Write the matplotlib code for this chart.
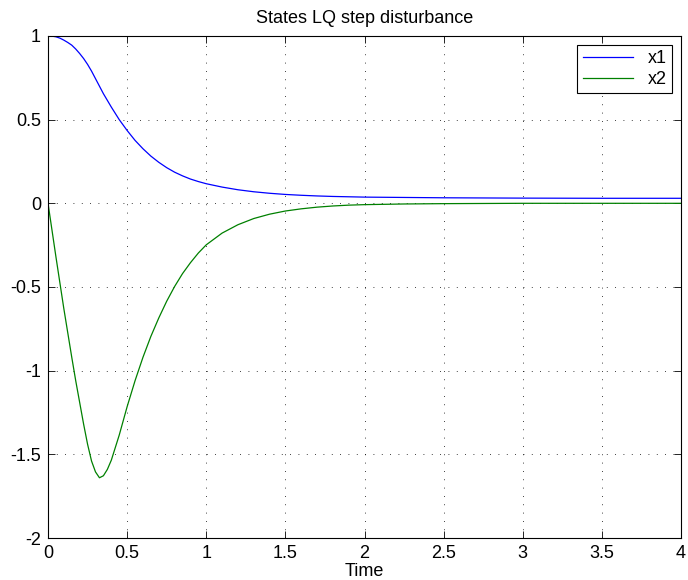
import numpy as np
import matplotlib
matplotlib.use("Agg")
import matplotlib.pyplot as plt

plt.rcParams.update({"font.family": ["Liberation Sans", "DejaVu Sans"], "font.size": 13})

# values
t = [0, 0.025, 0.05, 0.075, 0.1, 0.125, 0.15, 0.175, 0.2, 0.225, 0.25, 0.275, 0.3, 0.325,
     0.35, 0.375, 0.4, 0.45, 0.5, 0.55, 0.6, 0.65, 0.7, 0.75, 0.8, 0.85, 0.9, 0.95, 1.0,
     1.1, 1.2, 1.3, 1.4, 1.5, 1.6, 1.7, 1.8, 1.9, 2.0, 2.25, 2.5, 3.0, 3.5, 4.0]
x1 = [1.0, 0.999, 0.995, 0.987, 0.975, 0.961, 0.945, 0.922, 0.895, 0.865, 0.83, 0.79, 0.745, 0.7,
      0.655, 0.615, 0.575, 0.5, 0.435, 0.376, 0.326, 0.282, 0.245, 0.213, 0.186, 0.164, 0.145,
      0.13, 0.117, 0.097, 0.081, 0.069, 0.06, 0.053, 0.048, 0.044, 0.041, 0.039, 0.037, 0.035,
      0.033, 0.031, 0.03, 0.03]
x2 = [0.0, -0.16, -0.32, -0.475, -0.63, -0.775, -0.92, -1.06, -1.19, -1.32, -1.44, -1.54, -1.605,
      -1.64, -1.628, -1.59, -1.535, -1.385, -1.215, -1.06, -0.92, -0.795, -0.685, -0.585, -0.497,
      -0.42, -0.355, -0.297, -0.248, -0.178, -0.128, -0.091, -0.065, -0.046, -0.033, -0.023,
      -0.016, -0.011, -0.008, -0.004, -0.002, 0.0, 0.0, 0.0]

fig = plt.figure(figsize=(6.88, 5.8), dpi=100)
ax = fig.add_axes([0.0698, 0.0724, 0.92, 0.8656])
ax.plot(t, x1, color="#0000ff", lw=0.9, label="x1")
ax.plot(t, x2, color="#008000", lw=0.9, label="x2")
ax.set_xlim(0, 4); ax.set_ylim(-2, 1)
ax.set_xticks(np.arange(0, 4.01, 0.5), ["0", "0.5", "1", "1.5", "2", "2.5", "3", "3.5", "4"])
ax.set_yticks(np.arange(-2, 1.01, 0.5), ["-2", "-1.5", "-1", "-0.5", "0", "0.5", "1"])
ax.tick_params(direction="in", top=True, right=True, length=5, width=0.6, labelsize=13, pad=5)
ax.grid(True, color="black", linestyle=(0, (1, 9)), linewidth=0.6)
for s in ax.spines.values(): s.set_linewidth(0.8)
ax.set_xlabel("Time", fontsize=13, labelpad=0.5)
ax.set_title("States LQ step disturbance", fontsize=13, pad=9)
leg = ax.legend(loc="upper right", fancybox=False, framealpha=1, edgecolor="black",
                fontsize=13, handlelength=2.8, borderaxespad=0.5, borderpad=0.3, labelspacing=0.2)
leg.get_frame().set_linewidth(0.8)
fig.savefig("out.png", dpi=100)
